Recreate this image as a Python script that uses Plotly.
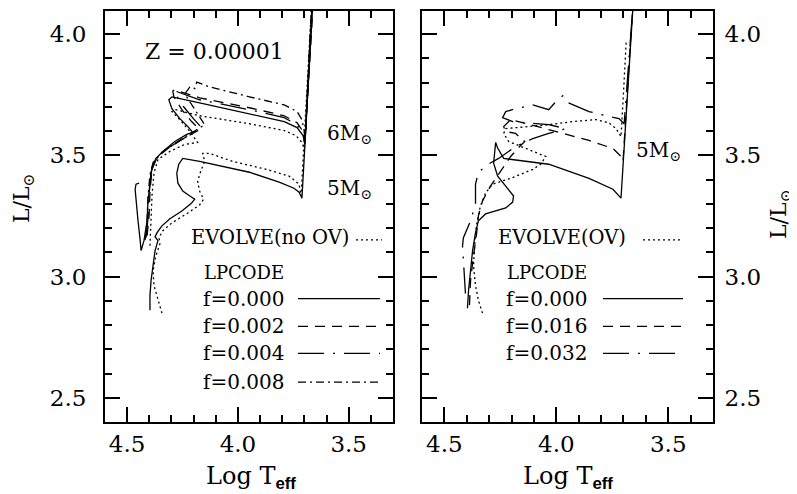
import plotly.graph_objects as go

# ---------------- data (log Teff, log L/Lsun) ----------------
# Left panel, Z = 0.00001
L5_f000_T = [4.397,4.397,4.392,4.383,4.374,4.361,4.374,4.365,4.343,4.307,4.253,4.209,4.195,4.217,4.249,4.271,4.276,4.267,4.249,4.173,4.083,3.948,3.814,3.747,3.724,3.711,3.657]
L5_f000_L = [2.861,2.922,2.984,3.045,3.107,3.148,3.164,3.181,3.209,3.238,3.270,3.303,3.319,3.332,3.352,3.385,3.426,3.463,3.487,3.475,3.458,3.430,3.389,3.364,3.348,3.323,4.21]

L5_evolve_T = [4.343,4.361,4.379,4.383,4.370,4.352,4.356,4.339,4.298,4.226,4.173,4.155,4.173,4.182,4.168,4.150,4.159,4.128,4.025,3.872,3.769,3.724,3.715,3.662]
L5_evolve_L = [2.849,2.902,2.963,3.025,3.086,3.135,3.160,3.189,3.221,3.262,3.295,3.319,3.352,3.393,3.434,3.475,3.508,3.508,3.475,3.442,3.414,3.381,3.332,4.21]

L6_f000_T = [4.446,4.460,4.464,4.460,4.451,4.442,4.437,4.424,4.410,4.406,4.397,4.388,4.370,4.339,4.285,4.231,4.204,4.226,4.262,4.298,4.312,4.298,4.173,3.948,3.791,3.733,3.706,3.698,3.660]
L6_f000_L = [3.385,3.381,3.360,3.311,3.230,3.156,3.107,3.148,3.230,3.311,3.393,3.450,3.487,3.516,3.557,3.586,3.594,3.618,3.651,3.692,3.729,3.741,3.716,3.671,3.639,3.614,3.581,3.545,4.21]

L6_f002_T = [4.410,4.401,4.397,4.388,4.365,4.316,4.253,4.195,4.173,4.209,4.253,4.289,4.294,4.285,4.173,3.948,3.791,3.733,3.706,3.697,3.655]
L6_f002_L = [3.168,3.250,3.352,3.442,3.491,3.528,3.565,3.594,3.606,3.639,3.688,3.741,3.765,3.770,3.737,3.696,3.663,3.634,3.598,3.557,4.21]

L6_f004_T = [4.415,4.406,4.401,4.392,4.374,4.330,4.262,4.200,4.164,4.200,4.245,4.280,4.285,4.271,4.173,3.948,3.791,3.733,3.706,3.697,3.661]
L6_f004_L = [3.160,3.240,3.340,3.430,3.480,3.522,3.560,3.592,3.614,3.650,3.700,3.750,3.768,3.761,3.729,3.688,3.655,3.626,3.590,3.553,4.21]

L6_f008_T = [4.419,4.410,4.406,4.397,4.383,4.343,4.280,4.200,4.150,4.182,4.217,4.240,4.217,4.195,4.186,4.128,3.948,3.791,3.733,3.711,3.702,3.697,3.663]
L6_f008_L = [3.150,3.230,3.330,3.420,3.470,3.512,3.552,3.598,3.626,3.671,3.721,3.753,3.782,3.775,3.802,3.782,3.741,3.708,3.680,3.647,3.606,3.565,4.21]

L6_evolve_T = [4.397,4.392,4.388,4.379,4.361,4.307,4.240,4.182,4.217,4.262,4.298,4.280,4.173,3.948,3.791,3.738,3.715,3.700,3.658]
L6_evolve_L = [3.127,3.230,3.332,3.426,3.483,3.516,3.545,3.553,3.598,3.647,3.680,3.688,3.663,3.630,3.602,3.581,3.557,3.528,4.21]

# Right panel, 5 Msun
R5_f000_T = [4.397,4.392,4.383,4.374,4.361,4.348,4.316,4.271,4.226,4.195,4.191,4.226,4.262,4.280,4.275,4.271,4.262,4.235,4.034,3.854,3.747,3.711,3.651]
R5_f000_L = [2.869,2.943,3.025,3.107,3.181,3.230,3.258,3.270,3.283,3.307,3.332,3.373,3.414,3.467,3.530,3.553,3.530,3.487,3.463,3.405,3.360,3.323,4.21]

R5_f016_T = [4.388,4.383,4.370,4.357,4.348,4.330,4.294,4.249,4.204,4.164,4.141,4.182,4.226,4.235,4.204,4.034,3.854,3.747,3.711,3.702,3.652]
R5_f016_L = [2.882,2.984,3.086,3.168,3.250,3.311,3.373,3.434,3.495,3.536,3.557,3.590,3.598,3.618,3.647,3.606,3.561,3.528,3.495,3.475,4.21]

R5_f032_T = [4.406,4.415,4.419,4.415,4.383,4.370,4.361,4.361,4.348,4.300,4.258,4.182,4.105,4.034,3.957,4.034,4.195,4.240,4.226,4.182,4.105,4.034,4.002,3.971,3.957,3.854,3.756,3.720,3.697,3.650]
R5_f032_L = [2.930,3.045,3.127,3.160,3.230,3.270,3.300,3.380,3.430,3.465,3.487,3.536,3.569,3.590,3.610,3.626,3.639,3.655,3.680,3.692,3.708,3.688,3.721,3.745,3.721,3.680,3.659,3.651,3.630,4.21]

R5_evolve_T = [4.330,4.348,4.361,4.370,4.365,4.357,4.339,4.316,4.285,4.204,4.105,4.070,4.047,4.137,4.213,4.235,4.226,4.034,3.926,3.823,3.765,3.733,3.711,3.702,3.693,3.688]
R5_evolve_L = [2.849,2.902,2.963,3.045,3.127,3.209,3.291,3.344,3.381,3.405,3.442,3.463,3.495,3.528,3.557,3.590,3.610,3.626,3.639,3.647,3.634,3.610,3.577,3.721,3.884,3.966]

X_RANGE = [4.6, 3.3]
Y_RANGE = [2.4, 4.095]
X_TICKS = [4.5, 4.0, 3.5]
X_TICKTEXT = ["4.5", "4.0", "3.5"]
Y_TICKS = [2.5, 3.0, 3.5, 4.0]
Y_TICKTEXT = ["2.5", "3.0", "3.5", "4.0"]

# ---------------- styles ----------------
DOT = "2px,3px"
DASH = "10px,7px"
LDASHDOT = "26px,9px,2px,9px"
DASHDOT = "8px,4px,2px,4px"
LW = 1.3
SERIF = "DejaVu Serif"

fig = go.Figure()

def add(T, L, dash, xa, ya):
    fig.add_trace(go.Scatter(x=T, y=L, mode="lines", xaxis=xa, yaxis=ya,
                             line=dict(color="black", width=LW, dash=dash),
                             showlegend=False, hoverinfo="skip"))

add(L5_evolve_T, L5_evolve_L, DOT, "x", "y")
add(L6_evolve_T, L6_evolve_L, DOT, "x", "y")
add(L6_f008_T, L6_f008_L, DASHDOT, "x", "y")
add(L6_f004_T, L6_f004_L, LDASHDOT, "x", "y")
add(L6_f002_T, L6_f002_L, DASH, "x", "y")
add(L6_f000_T, L6_f000_L, "solid", "x", "y")
add(L5_f000_T, L5_f000_L, "solid", "x", "y")

add(R5_evolve_T, R5_evolve_L, DOT, "x2", "y2")
add(R5_f032_T, R5_f032_L, LDASHDOT, "x2", "y2")
add(R5_f016_T, R5_f016_L, DASH, "x2", "y2")
add(R5_f000_T, R5_f000_L, "solid", "x2", "y2")

# page body has an 8px margin: the figure is drawn 8px right/down of the window corner
OFF = 8
W, H = 797 - OFF, 494 - OFF
ML, MR, MT, MB = 105 - OFF, 84, 9 - OFF, 72
PW, PH = W - ML - MR, H - MT - MB

def px(x):   # window pixel -> paper x
    return (x - OFF - ML) / PW

def py(y):   # window pixel -> paper y
    return (H - MB - (y - OFF)) / PH

axis_common = dict(showline=True, linewidth=2, linecolor="black", mirror="ticks",
                   ticks="inside", ticklen=15, tickwidth=1.5, tickcolor="black",
                   showgrid=False, zeroline=False,
                   tickfont=dict(family=SERIF, size=23, color="black"),
                   minor=dict(dtick=0.1, ticks="inside", ticklen=7, tickwidth=1.5,
                              tickcolor="black", showgrid=False))

xdom1 = [0, px(393)]
xdom2 = [px(422), 1]

fig.update_layout(
    width=W, height=H, margin=dict(l=ML, r=MR, t=MT, b=MB),
    paper_bgcolor="white", plot_bgcolor="white",
    xaxis=dict(domain=xdom1, range=X_RANGE, anchor="y", tickvals=X_TICKS, ticktext=X_TICKTEXT,
               ticklabelstandoff=0, **axis_common),
    yaxis=dict(domain=[0, 1], range=Y_RANGE, anchor="x", tickvals=Y_TICKS, ticktext=Y_TICKTEXT,
               ticklabelstandoff=12, **axis_common),
    xaxis2=dict(domain=xdom2, range=X_RANGE, anchor="y2", tickvals=X_TICKS, ticktext=X_TICKTEXT,
                ticklabelstandoff=0, **axis_common),
    yaxis2=dict(domain=[0, 1], range=Y_RANGE, anchor="x2", side="right", tickvals=Y_TICKS,
                ticktext=Y_TICKTEXT, ticklabelstandoff=5, **axis_common),
)

ann = []
def text(x, y, s, size=18, xanchor="center", angle=0):
    ann.append(dict(x=px(x), y=py(y), xref="paper", yref="paper", text=s, showarrow=False,
                    xanchor=xanchor, yanchor="middle", textangle=angle,
                    font=dict(family=SERIF, size=size, color="black")))

EFF = "<sub><span style='font-family:Liberation Sans;font-weight:bold'>eff</span></sub>"
text(251, 478, "Log T" + EFF, size=24)
text(568, 478, "Log T" + EFF, size=24)
text(23, 197, "L/L<sub>⊙</sub>", size=22, angle=-90)
text(780, 213, "L/L<sub>⊙</sub>", size=22, angle=-90)
text(214, 50, "Z\u00a0=\u00a00.00001", size=22)
text(374, 133, "6M<sub>⊙</sub>", size=20, xanchor="right")
text(374, 188, "5M<sub>⊙</sub>", size=20, xanchor="right")
text(683, 150, "5M<sub>⊙</sub>", size=20, xanchor="right")

# legends
text(351, 237, "EVOLVE(no OV)", size=19.5, xanchor="right")
text(286, 272, "LPCODE", size=18, xanchor="right")
for yy, s in [(298, "f=0.000"), (326, "f=0.002"), (353, "f=0.004"), (382, "f=0.008")]:
    text(286, yy, s, size=20, xanchor="right")
text(628, 237, "EVOLVE(OV)", size=19.5, xanchor="right")
text(589, 272, "LPCODE", size=18, xanchor="right")
for yy, s in [(298, "f=0.000"), (326, "f=0.016"), (353, "f=0.032")]:
    text(589, yy, s, size=20, xanchor="right")

shapes = []
def sample(x0, x1, y, dash):
    shapes.append(dict(type="line", xref="paper", yref="paper", x0=px(x0), x1=px(x1),
                       y0=py(y), y1=py(y), line=dict(color="black", width=LW, dash=dash)))

sample(356, 382, 239, DOT)
sample(298, 380, 298, "solid")
sample(298, 380, 326, DASH)
sample(298, 380, 353, LDASHDOT)
sample(298, 380, 382, DASHDOT)
sample(643, 683, 239, DOT)
sample(603, 683, 298, "solid")
sample(603, 683, 326, DASH)
sample(603, 683, 353, LDASHDOT)

fig.update_layout(annotations=ann, shapes=shapes)
fig.write_html("out.html")
